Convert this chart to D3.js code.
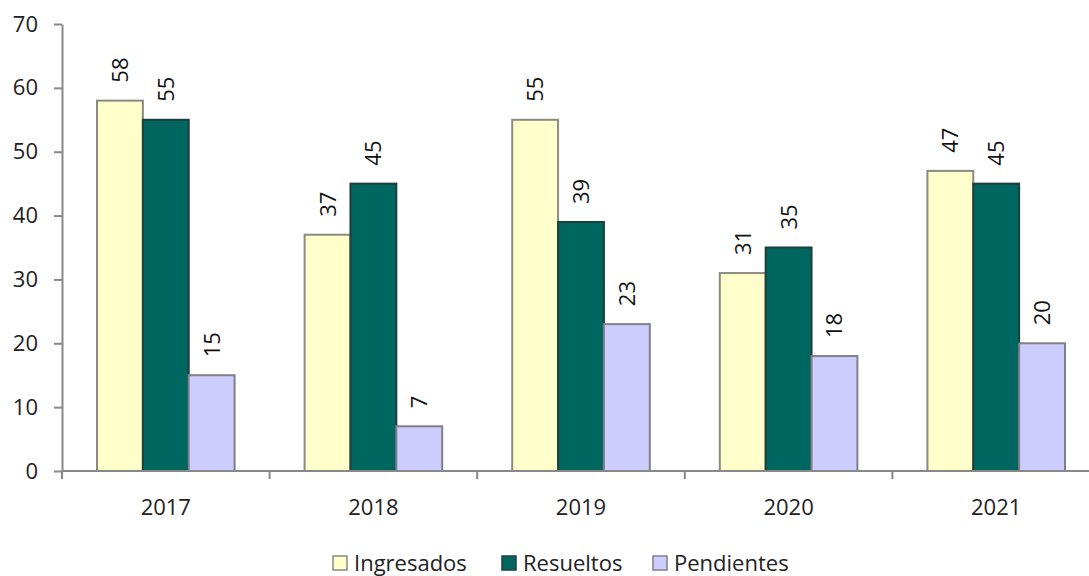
<!DOCTYPE html>
<html>
<head>
<meta charset="utf-8">
<script src="https://cdn.jsdelivr.net/npm/d3@7"></script>
<style>
  body { margin: 0; background: #fff; }
  svg { font-family: "Open Sans", sans-serif; }
</style>
</head>
<body>
<svg></svg>
<script>
var width = 1089;
var height = 576;

var years = ['2017', '2018', '2019', '2020', '2021'];
var seriesNames = ['Ingresados', 'Resueltos', 'Pendientes'];
var ingresados = [58, 37, 55, 31, 47];
var resueltos = [55, 45, 39, 35, 45];
var pendientes = [15, 7, 23, 18, 20];
var yTicks = [0, 10, 20, 30, 40, 50, 60, 70];

var fills = ['#FFFFCC', '#006660', '#CCCCFF'];
var strokes = ['#8a8a80', '#1f3f3c', '#808088'];

var data = years.map(function(y, i) {
    return { year: y, values: [ingresados[i], resueltos[i], pendientes[i]] };
});

var left = 62, bandW = 207.6;
var fontSize = '22px';

var svg = d3.select('svg')
    .attr('width', width)
    .attr('height', height);

var xScale = d3.scaleBand()
    .domain(years)
    .range([left, left + bandW * years.length])
    .paddingInner(0).paddingOuter(0);

var xInner = d3.scaleBand()
    .domain(seriesNames)
    .range([35, bandW - 35])
    .padding(0);

var yScale = d3.scaleLinear()
    .domain([0, 70])
    .range([471, 24]);

// y axis
var yAxis = d3.axisLeft(yScale)
    .tickValues(yTicks)
    .tickSize(8)
    .tickSizeOuter(0)
    .tickPadding(16);

var gy = svg.append('g')
    .attr('transform', 'translate(' + left + ',0)')
    .call(yAxis);
gy.select('.domain').attr('stroke', '#888').attr('stroke-width', 2);
gy.selectAll('.tick line').attr('stroke', '#888').attr('stroke-width', 2);
gy.selectAll('.tick text')
    .attr('fill', '#222')
    .style('font-size', fontSize)
    .style('font-family', '"Open Sans", sans-serif');

// bars
var groups = svg.selectAll('g.year')
    .data(data)
    .enter()
    .append('g')
        .attr('class', 'year')
        .attr('transform', d => 'translate(' + xScale(d.year) + ',0)');

groups.selectAll('rect')
    .data(d => d.values.map((v, i) => ({ name: seriesNames[i], value: v, i: i })))
    .enter()
    .append('rect')
        .attr('x', d => xInner(d.name))
        .attr('y', d => yScale(d.value))
        .attr('width', xInner.bandwidth())
        .attr('height', d => yScale(0) - yScale(d.value))
        .attr('fill', d => fills[d.i])
        .attr('stroke', d => strokes[d.i])
        .attr('stroke-width', 2);

groups.selectAll('text.val')
    .data(d => d.values.map((v, i) => ({ name: seriesNames[i], value: v })))
    .enter()
    .append('text')
        .attr('class', 'val')
        .attr('transform', d => 'translate(' + (xInner(d.name) + xInner.bandwidth() / 2 + 8) + ',' + (yScale(d.value) - 18) + ') rotate(-90)')
        .style('font-size', fontSize)
        .attr('fill', '#111')
        .text(d => d.value);

// x axis
var xEnd = width;
svg.append('line')
    .attr('x1', left).attr('x2', xEnd)
    .attr('y1', yScale(0)).attr('y2', yScale(0))
    .attr('stroke', '#888').attr('stroke-width', 2);

var bounds = years.map(y => xScale(y));
svg.selectAll('line.xtick')
    .data(bounds)
    .enter()
    .append('line')
        .attr('class', 'xtick')
        .attr('x1', d => d).attr('x2', d => d)
        .attr('y1', yScale(0)).attr('y2', yScale(0) + 8)
        .attr('stroke', '#888').attr('stroke-width', 2);

svg.selectAll('text.xlab')
    .data(years)
    .enter()
    .append('text')
        .attr('class', 'xlab')
        .attr('x', d => xScale(d) + bandW / 2)
        .attr('y', 515)
        .attr('text-anchor', 'middle')
        .style('font-size', fontSize)
        .attr('fill', '#222')
        .text(d => d);

// legend
var legendX = [333, 502, 653];
var legend = svg.selectAll('g.legend')
    .data(seriesNames)
    .enter()
    .append('g')
        .attr('class', 'legend')
        .attr('transform', (d, i) => 'translate(' + legendX[i] + ',556)');

legend.append('rect')
    .attr('width', 14).attr('height', 14)
    .attr('fill', (d, i) => fills[i])
    .attr('stroke', (d, i) => strokes[i])
    .attr('stroke-width', 1.5);

legend.append('text')
    .attr('x', 21)
    .attr('y', 15)
    .style('font-size', fontSize)
    .attr('fill', '#222')
    .text(d => d);
</script>
</body>
</html>
